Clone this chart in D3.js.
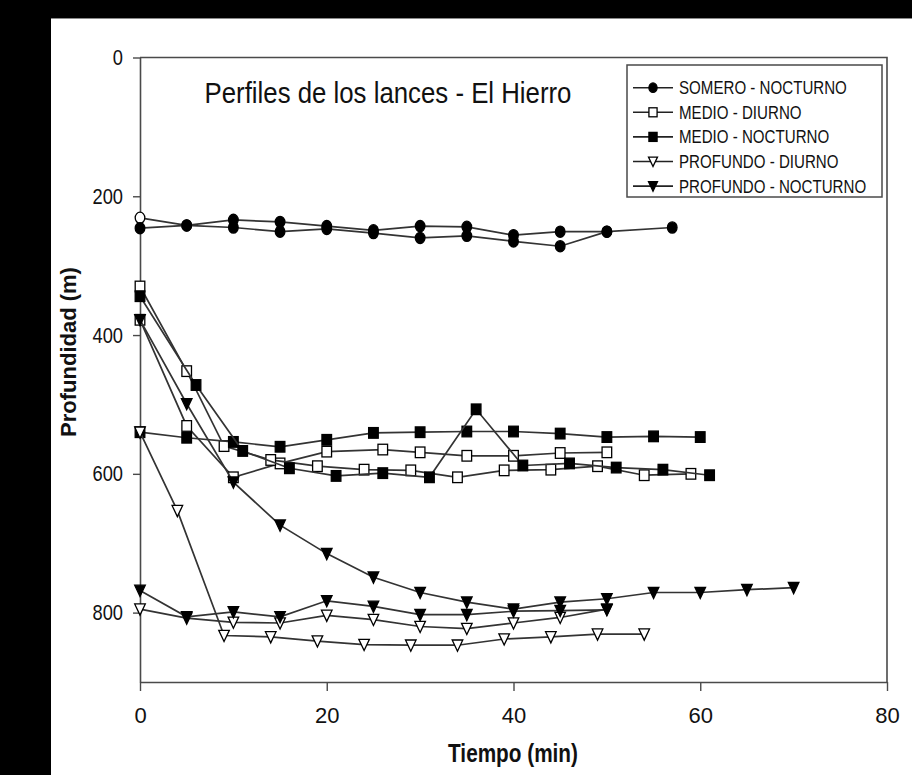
<!DOCTYPE html>
<html><head><meta charset="utf-8">
<script src="https://cdn.jsdelivr.net/npm/d3@7"></script>
<style>
body{margin:0;background:#000}
svg{display:block}
text{font-family:"Liberation Sans",Arial,Helvetica,sans-serif}
</style>
</head><body>
<svg id="c" width="912" height="775"></svg>
<script>
// ---------- data ----------
const titleText = "Perfiles de los lances - El Hierro";
const xTitle = "Tiempo (min)";
const yTitle = "Profundidad (m)";
const xTicks = [0, 20, 40, 60, 80];
const yTicks = [0, 200, 400, 600, 800];
const legendLabels = ["SOMERO - NOCTURNO", "MEDIO - DIURNO", "MEDIO - NOCTURNO", "PROFUNDO - DIURNO", "PROFUNDO - NOCTURNO"];

// SOMERO - NOCTURNO (two hauls)
const someroA_t = [0, 5, 10, 15, 20, 25, 30, 35, 40, 45, 50, 57];
const someroA_d = [231, 242, 234, 237, 243, 249, 243, 244, 256, 251, 251, 245];
const someroB_t = [0, 5, 10, 15, 20, 25, 30, 35, 40, 45, 50];
const someroB_d = [246, 242, 245, 251, 247, 253, 260, 257, 265, 272, 251];

// MEDIO - DIURNO
const medioDiaA_t = [0, 5, 10, 15, 20, 26, 30, 35, 40, 45, 50];
const medioDiaA_d = [378, 531, 605, 585, 568, 565, 569, 574, 574, 570, 569];
const medioDiaB_t = [0, 5, 9, 14, 19, 24, 29, 34, 39, 44, 49, 54, 59];
const medioDiaB_d = [330, 452, 560, 580, 589, 594, 595, 605, 595, 594, 589, 602, 600];

// MEDIO - NOCTURNO
const medioNocA_t = [0, 5, 10, 15, 20, 25, 30, 35, 40, 45, 50, 55, 60];
const medioNocA_d = [540, 548, 554, 561, 551, 541, 540, 539, 539, 542, 547, 546, 547];
const medioNocB_t = [0, 6, 11, 16, 21, 26, 31, 36, 41, 46, 51, 56, 61];
const medioNocB_d = [344, 472, 567, 592, 603, 599, 605, 507, 588, 585, 591, 594, 602];

// PROFUNDO - DIURNO
const profDiaA_t = [0, 4, 9, 14, 19, 24, 29, 34, 39, 44, 49, 54];
const profDiaA_d = [540, 653, 833, 835, 841, 846, 847, 847, 838, 835, 831, 831];
const profDiaB_t = [0, 5, 10, 15, 20, 25, 30, 35, 40, 45, 50];
const profDiaB_d = [795, 808, 814, 815, 804, 810, 820, 823, 815, 807, 795];

// PROFUNDO - NOCTURNO
const profNocA_t = [0, 5, 10, 15, 20, 25, 30, 35, 40, 45, 50, 55, 60, 65, 70];
const profNocA_d = [378, 499, 612, 674, 715, 749, 771, 785, 795, 785, 780, 771, 771, 767, 764];
const profNocB_t = [0, 5, 10, 15, 20, 25, 30, 35, 40, 45, 50];
const profNocB_d = [768, 806, 799, 806, 783, 791, 803, 803, 798, 797, 796];

// ---------- build series ----------
const zip = (t, d) => t.map((v, i) => ({t: v, d: d[i]}));
const series = [
  {g: 0, pts: zip(someroA_t, someroA_d), hollowFirst: true},
  {g: 0, pts: zip(someroB_t, someroB_d)},
  {g: 1, pts: zip(medioDiaA_t, medioDiaA_d)},
  {g: 1, pts: zip(medioDiaB_t, medioDiaB_d)},
  {g: 2, pts: zip(medioNocA_t, medioNocA_d)},
  {g: 2, pts: zip(medioNocB_t, medioNocB_d)},
  {g: 3, pts: zip(profDiaA_t, profDiaA_d)},
  {g: 3, pts: zip(profDiaB_t, profDiaB_d)},
  {g: 4, pts: zip(profNocA_t, profNocA_d)},
  {g: 4, pts: zip(profNocB_t, profNocB_d)}
];
// marker shapes per legend group: [shape, filled]
const markerKind = [["circle", true], ["square", false], ["square", true], ["tri", false], ["tri", true]];

// ---------- layout ----------
const W = 912, H = 775;
const svg = d3.select("#c");
svg.append("rect").attr("width", W).attr("height", H).attr("fill", "#000");
svg.append("rect").attr("x", 51).attr("y", 18).attr("width", W - 51).attr("height", H - 18).attr("fill", "#fff");
svg.append("line").attr("x1", 51).attr("x2", W).attr("y1", 18.5).attr("y2", 18.5).attr("stroke", "#8a8a8a").attr("stroke-width", 1);

const x = d3.scaleLinear().domain([0, 80]).range([140, 887]);
const y = d3.scaleLinear().domain([0, 900]).range([57.5, 682]);
const axisColor = "#4a4a4a";
const SX = 0.83; // horizontal condensation of the original lettering

// frame (top and right)
svg.append("path")
  .attr("d", `M${x(0)},${y(0)}H${x(80)}V${y(900)}`)
  .attr("fill", "none").attr("stroke", axisColor).attr("stroke-width", 1.6);

// axes
const gy = svg.append("g").attr("transform", `translate(${x(0)},0)`)
  .call(d3.axisLeft(y).tickValues(yTicks).tickSize(7).tickSizeOuter(0).tickPadding(10).tickFormat(d3.format("d")));
const gx = svg.append("g").attr("transform", `translate(0,${y(900)})`)
  .call(d3.axisBottom(x).tickValues(xTicks).tickSize(9).tickSizeOuter(0).tickPadding(16).tickFormat(d3.format("d")));
[gx, gy].forEach(g => {
  g.select(".domain").attr("stroke", axisColor).attr("stroke-width", 1.6);
  g.selectAll(".tick line").attr("stroke", axisColor).attr("stroke-width", 1.4);
  g.selectAll(".tick text").attr("font-size", 22).attr("fill", "#111")
    .attr("font-family", '"Liberation Sans",Arial,sans-serif');
});
gy.selectAll(".tick text").each(function () {
  const t = d3.select(this); const xx = +t.attr("x");
  t.attr("x", 0).attr("transform", `translate(${xx},0) scale(${SX},1)`);
});

// line generator
const line = d3.line().x(p => x(p.t)).y(p => y(p.d));

function drawMarker(sel, kind, filled, s) {
  const fill = filled ? "#000" : "#fff";
  let m;
  if (kind === "circle") {
    m = sel.append("ellipse").attr("rx", 4.8 * s).attr("ry", 5.6 * s);
  } else if (kind === "square") {
    m = sel.append("rect").attr("x", -4.8 * s).attr("y", -5.3 * s).attr("width", 9.6 * s).attr("height", 10.6 * s);
  } else {
    m = sel.append("path").attr("d", `M${-5.3 * s},${-5.2 * s}L${5.3 * s},${-5.2 * s}L0,${6 * s}Z`);
  }
  m.attr("fill", fill).attr("stroke", "#000").attr("stroke-width", 1.3).attr("stroke-linejoin", "miter");
  return m;
}

const plot = svg.append("g");
series.forEach(s => {
  const [kind, filled] = markerKind[s.g];
  plot.append("path").attr("d", line(s.pts)).attr("fill", "none")
    .attr("stroke", "#333").attr("stroke-width", 1.7);
  s.pts.forEach((p, i) => {
    const g = plot.append("g").attr("transform", `translate(${x(p.t)},${y(p.d)})`);
    drawMarker(g, kind, (s.hollowFirst && i === 0) ? false : filled, 1);
  });
});

// title
svg.append("text").attr("transform", `translate(388,103) scale(0.86,1)`)
  .attr("text-anchor", "middle").attr("font-size", 30).attr("fill", "#111").text(titleText);

// axis titles
svg.append("text").attr("transform", `translate(513,762) scale(${SX},1)`)
  .attr("text-anchor", "middle").attr("font-size", 25).attr("font-weight", "bold").attr("fill", "#111").text(xTitle);
svg.append("text").attr("transform", `translate(76,352) rotate(-90)`)
  .attr("text-anchor", "middle").attr("font-size", 22).attr("font-weight", "bold").attr("fill", "#111").text(yTitle);

// legend
const leg = svg.append("g");
leg.append("rect").attr("x", 627).attr("y", 65).attr("width", 255).attr("height", 132)
  .attr("fill", "#fff").attr("stroke", axisColor).attr("stroke-width", 1.5);
legendLabels.forEach((lab, i) => {
  const cy = 87.7 + i * 24.6;
  const [kind, filled] = markerKind[i];
  leg.append("line").attr("x1", 633).attr("x2", 673).attr("y1", cy).attr("y2", cy)
    .attr("stroke", "#222").attr("stroke-width", 1.6);
  const g = leg.append("g").attr("transform", `translate(653,${cy})`);
  drawMarker(g, kind, filled, 0.85);
  leg.append("text").attr("transform", `translate(679,${cy + 6.5}) scale(0.84,1)`)
    .attr("font-size", 18).attr("fill", "#111").text(lab);
});
</script>
</body></html>
